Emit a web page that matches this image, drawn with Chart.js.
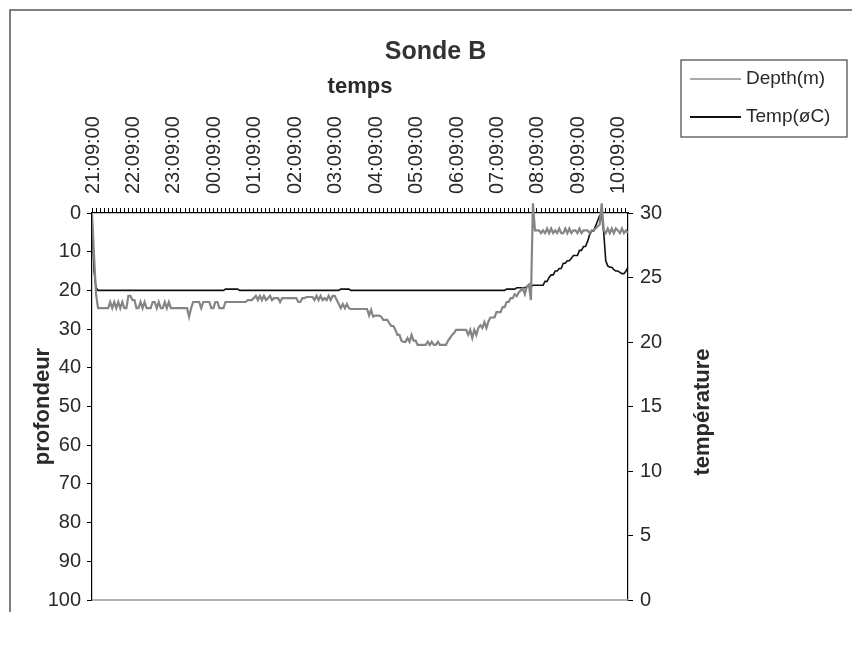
<!DOCTYPE html>
<html>
<head>
<meta charset="utf-8">
<title>Sonde B</title>
<script src="https://cdn.jsdelivr.net/npm/chart.js@4.4.1/dist/chart.umd.min.js"></script>
<style>
  html, body { margin: 0; padding: 0; background: #fff; }
  #wrap { width: 855px; height: 646px; }
</style>
</head>
<body>
<div id="wrap"><canvas id="sondeChart" width="855" height="646"></canvas></div>
<script>
// one reading every 3 minutes, first one at 21:09:00
const START_MIN = 21 * 60 + 9;
const STEP_MIN = 3;

const hourLabels = ['21:09:00', '22:09:00', '23:09:00', '00:09:00', '01:09:00', '02:09:00', '03:09:00',
                    '04:09:00', '05:09:00', '06:09:00', '07:09:00', '08:09:00', '09:09:00', '10:09:00'];

const depthTicks = [0, 10, 20, 30, 40, 50, 60, 70, 80, 90, 100];
const tempTicks = [0, 5, 10, 15, 20, 25, 30];

// depth (m), one row per hour
const depth = [
    0, 11, 21, 24.6, 24.6, 24.6, 24.6, 24.6, 24.6, 23, 24.6, 23, 24.6, 23, 24.6, 23, 24.6, 24.6, 21.4, 21.4,
    22.5, 22.5, 24.6, 24.6, 23, 24.6, 23, 24.6, 24.6, 24.6, 23, 23, 24.6, 23, 24.6, 24.6, 23, 24.6, 23, 24.6,
    24.6, 24.6, 24.6, 24.6, 24.6, 24.6, 24.6, 24.6, 26.8, 24.6, 23, 23, 23, 23, 24.6, 23, 23, 23, 23, 24.6,
    24.6, 23, 23, 24.6, 24.6, 24.6, 23, 23, 23, 23, 23, 23, 23, 23, 23, 23, 23, 22.5, 22.5, 22.5,
    22, 21.4, 22.5, 21.4, 22.5, 21.4, 22.5, 22, 21.4, 22.5, 22, 22, 22, 23, 22, 22, 22, 22, 22, 22,
    22, 22, 23, 23, 22, 22, 21.7, 21.7, 21.7, 21.7, 22.5, 21.4, 22.5, 21.4, 22.5, 22, 22.5, 21.4, 22.5, 21.4,
    21.4, 22.5, 23.5, 24.6, 23.5, 24.6, 23.5, 24.6, 24.8, 24.8, 24.8, 24.8, 24.8, 24.8, 24.8, 24.8, 24.8, 26.5, 25, 26.8,
    26.5, 26.5, 26.5, 26.8, 27.6, 27.6, 27.6, 28.5, 29.2, 29.2, 30.2, 31.5, 31.5, 33, 33.3, 33.3, 32.3, 33.3, 31.5, 33,
    33, 34.1, 34.1, 34.1, 34.1, 34.1, 33.3, 34.1, 33.3, 34.1, 34.1, 33.3, 34.1, 34.1, 34.1, 34.1, 33, 32.3, 31.5, 31,
    30.2, 30.2, 30.2, 30.2, 30.2, 30.2, 31.5, 30.2, 32.3, 30.2, 31.5, 29.7, 29, 29.7, 28.2, 29.7, 28, 27, 27, 27,
    25.6, 25.6, 25.6, 24.3, 24.3, 23, 23, 22, 22, 21, 21.5, 20.5, 20, 19.5, 21, 19, 18.5, 22.5, -2.5, 4.5,
    4.5, 4.5, 5.2, 4.5, 5.2, 4, 5.2, 4, 5.2, 4.5, 5.2, 4, 5.2, 5.2, 4, 5.2, 4, 5.2, 4.5, 4.5,
    5.2, 4, 5.2, 4.5, 4.5, 4.5, 5.2, 4.5, 4.5, 4, 3.5, 3, -2.5, 4.5, 5.2, 4, 5.2, 4, 5.2, 4,
    4.5, 5.2, 4, 5.2, 4.5, 5.2
];

// temperature (deg C), one row per hour
const temp = [
    29.5, 25.5, 24.2, 24, 24, 24, 24, 24, 24, 24, 24, 24, 24, 24, 24, 24, 24, 24, 24, 24,
    24, 24, 24, 24, 24, 24, 24, 24, 24, 24, 24, 24, 24, 24, 24, 24, 24, 24, 24, 24,
    24, 24, 24, 24, 24, 24, 24, 24, 24, 24, 24, 24, 24, 24, 24, 24, 24, 24, 24, 24,
    24, 24, 24, 24, 24, 24, 24.1, 24.1, 24.1, 24.1, 24.1, 24.1, 24.1, 24, 24, 24, 24, 24, 24, 24,
    24, 24, 24, 24, 24, 24, 24, 24, 24, 24, 24, 24, 24, 24, 24, 24, 24, 24, 24, 24,
    24, 24, 24, 24, 24, 24, 24, 24, 24, 24, 24, 24, 24, 24, 24, 24, 24, 24, 24, 24,
    24, 24, 24, 24.1, 24.1, 24.1, 24.1, 24.1, 24, 24, 24, 24, 24, 24, 24, 24, 24, 24, 24, 24,
    24, 24, 24, 24, 24, 24, 24, 24, 24, 24, 24, 24, 24, 24, 24, 24, 24, 24, 24, 24,
    24, 24, 24, 24, 24, 24, 24, 24, 24, 24, 24, 24, 24, 24, 24, 24, 24, 24, 24, 24,
    24, 24, 24, 24, 24, 24, 24, 24, 24, 24, 24, 24, 24, 24, 24, 24, 24, 24, 24, 24,
    24, 24, 24, 24, 24, 24.1, 24.1, 24.1, 24.1, 24.1, 24.2, 24.2, 24.2, 24.2, 24.2, 24.3, 24.3, 24.3, 24.4, 24.4,
    24.4, 24.4, 24.4, 24.4, 24.7, 24.7, 25.0, 25.2, 25.2, 25.5, 25.5, 25.7, 25.7, 26.1, 26.1, 26.3, 26.3, 26.5, 26.7, 26.7,
    26.7, 27.1, 27.1, 27.4, 27.4, 27.8, 28.3, 28.6, 28.6, 29.0, 29.4, 29.8, 29.8, 28.5, 26.3, 25.9, 25.8, 25.8, 25.6, 25.5,
    25.5, 25.4, 25.3, 25.3, 25.5, 25.8
];

const times = depth.map((_, i) => {
    const m = (START_MIN + i * STEP_MIN) % 1440;
    return String(Math.floor(m / 60)).padStart(2, '0') + ':' + String(m % 60).padStart(2, '0') + ':00';
});

const FONT = 'Liberation Sans, Arial, sans-serif';
const TEXT = '#2a2a2a';

// frame, bottom edge of the plot, right axis title and the boxed legend
const decor = {
    id: 'decor',
    beforeDraw(chart) {
        const ctx = chart.ctx;
        ctx.save();
        ctx.strokeStyle = '#555';
        ctx.lineWidth = 1.5;
        ctx.beginPath();
        ctx.moveTo(10, 612);
        ctx.lineTo(10, 10);
        ctx.lineTo(852, 10);
        ctx.stroke();
        ctx.restore();
    },
    afterDraw(chart) {
        const {ctx, chartArea: a} = chart;
        ctx.save();

        ctx.strokeStyle = '#999';
        ctx.lineWidth = 1.5;
        ctx.beginPath();
        ctx.moveTo(a.left, a.bottom);
        ctx.lineTo(a.right, a.bottom);
        ctx.stroke();

        ctx.fillStyle = TEXT;
        ctx.font = 'bold 22px ' + FONT;
        ctx.textAlign = 'center';
        ctx.textBaseline = 'middle';
        ctx.translate(703, 412);
        ctx.rotate(-Math.PI / 2);
        ctx.fillText('température', 0, 0);
        ctx.setTransform(1, 0, 0, 1, 0, 0);

        ctx.strokeStyle = '#444';
        ctx.lineWidth = 1.2;
        ctx.strokeRect(681, 60, 166, 77);
        ctx.font = '19px ' + FONT;
        ctx.textAlign = 'left';
        chart.data.datasets.forEach((ds, i) => {
            const y = 79 + i * 38;
            ctx.strokeStyle = i === 0 ? '#555' : ds.borderColor;
            ctx.lineWidth = i === 0 ? 1.2 : 2;
            ctx.beginPath();
            ctx.moveTo(690, y);
            ctx.lineTo(741, y);
            ctx.stroke();
            ctx.fillStyle = TEXT;
            ctx.fillText(ds.label, 746, y);
        });
        ctx.restore();
    }
};

new Chart(document.getElementById('sondeChart'), {
    type: 'line',
    data: {
        labels: times,
        datasets: [{
            label: 'Depth(m)',
            data: depth,
            yAxisID: 'y',
            borderColor: '#858585',
            borderWidth: 2.2,
            pointRadius: 0,
            clip: {left: 0, top: 12, right: 0, bottom: 0}
        }, {
            label: 'Temp(øC)',
            data: temp,
            yAxisID: 'y2',
            borderColor: '#111',
            borderWidth: 1.6,
            pointRadius: 0
        }]
    },
    options: {
        responsive: false,
        animation: false,
        layout: {
            padding: {left: 16, right: 0, top: 0, bottom: 46}
        },
        plugins: {
            legend: {display: false},
            tooltip: {enabled: false},
            title: {
                display: true,
                text: 'Sonde B',
                color: '#333',
                font: {family: FONT, size: 25, weight: 'bold'},
                padding: {top: 37, bottom: 0}
            }
        },
        scales: {
            x: {
                position: 'top',
                offset: false,
                afterFit: s => { s.height = 146; },
                title: {
                    display: true,
                    text: 'temps',
                    color: TEXT,
                    font: {family: FONT, size: 22, weight: 'bold'},
                    padding: {top: 7, bottom: 0}
                },
                ticks: {
                    autoSkip: false,
                    minRotation: 90,
                    maxRotation: 90,
                    padding: 14,
                    labelOffset: 25,
                    color: TEXT,
                    font: {family: FONT, size: 20},
                    callback: (v, i) => i % 20 === 0 ? hourLabels[i / 20] : ''
                },
                grid: {
                    drawOnChartArea: false,
                    tickLength: 5,
                    tickColor: c => c.index % 2 === 0 ? '#000' : 'rgba(0,0,0,0)',
                    color: c => c.index % 2 === 0 ? '#000' : 'rgba(0,0,0,0)'
                },
                border: {color: '#000', width: 1.2}
            },
            y: {
                position: 'left',
                reverse: true,
                min: 0,
                max: 100,
                afterFit: s => { s.width = 76; },
                afterBuildTicks: s => { s.ticks = depthTicks.map(v => ({value: v})); },
                title: {
                    display: true,
                    text: 'profondeur',
                    color: TEXT,
                    font: {family: FONT, size: 22, weight: 'bold'},
                    padding: {top: 14, bottom: 0}
                },
                ticks: {
                    padding: 6,
                    color: TEXT,
                    font: {family: FONT, size: 20}
                },
                grid: {drawOnChartArea: false, tickLength: 5, color: '#000'},
                border: {color: '#000', width: 1.2}
            },
            y2: {
                position: 'right',
                min: 0,
                max: 30,
                afterFit: s => { s.width = 227; },
                afterBuildTicks: s => { s.ticks = tempTicks.map(v => ({value: v})); },
                ticks: {
                    padding: 7,
                    color: TEXT,
                    font: {family: FONT, size: 20}
                },
                grid: {drawOnChartArea: false, tickLength: 5, color: '#000'},
                border: {color: '#000', width: 1.2}
            }
        }
    },
    plugins: [decor]
});
</script>
</body>
</html>
